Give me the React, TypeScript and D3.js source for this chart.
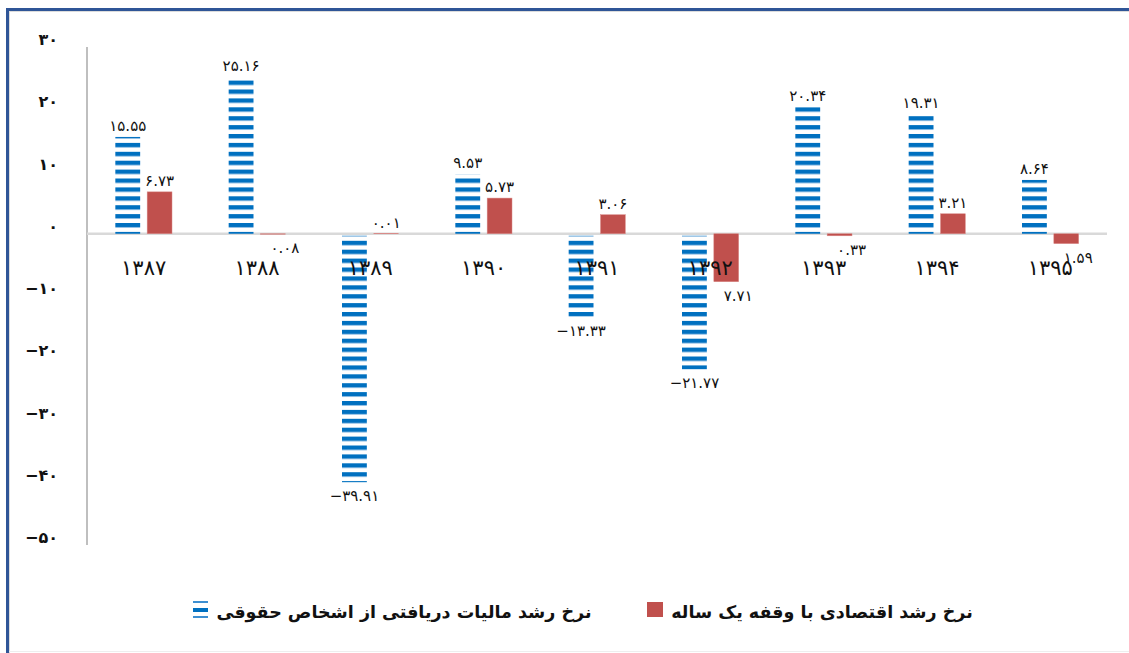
import React, { useEffect, useRef } from 'react';
import * as d3 from 'd3';

// سال‌ها
const years = ['1387', '1388', '1389', '1390', '1391', '1392', '1393', '1394', '1395'];
// نرخ رشد مالیات دریافتی از اشخاص حقوقی
const taxGrowth = [15.55, 25.16, -39.91, 9.53, -13.33, -21.77, 20.34, 19.31, 8.64];
// نرخ رشد اقتصادی با وقفه یک ساله
const gdpGrowth = [6.73, -0.08, 0.01, 5.73, 3.06, -7.71, -0.33, 3.21, -1.59];
const yTicks = [30, 20, 10, 0, -10, -20, -30, -40, -50];
const seriesNames = ['نرخ رشد مالیات دریافتی از اشخاص حقوقی', 'نرخ رشد اقتصادی با وقفه یک ساله'];

const toFa = (s: string) => s.replace(/[0-9]/g, d => '۰۱۲۳۴۵۶۷۸۹'[+d]);

const App = () => {
  const ref = useRef<SVGSVGElement | null>(null);

  useEffect(() => {
    const W = 1129;
    const H = 653;
    const svg = d3.select(ref.current);
    svg.selectAll('*').remove();
    svg.attr('width', W).attr('height', H).style('font-family', '"DejaVu Sans", sans-serif');

    svg.append('rect').attr('width', W).attr('height', H).attr('fill', '#fff');

    // قاب
    svg.append('rect').attr('x', 6).attr('y', 8).attr('width', W - 6).attr('height', 3).attr('fill', '#2f5597');
    svg.append('rect').attr('x', 6).attr('y', 8).attr('width', 3).attr('height', H - 8).attr('fill', '#2f5597');
    svg.append('rect').attr('x', 9).attr('y', 11).attr('width', W - 9).attr('height', 1).attr('fill', '#dcdcdc');
    svg.append('rect').attr('x', 9).attr('y', 11).attr('width', 1).attr('height', H - 11).attr('fill', '#dcdcdc');
    svg.append('rect').attr('x', 9).attr('y', H - 2).attr('width', W - 9).attr('height', 1).attr('fill', '#eeeeee');

    const defs = svg.append('defs');
    const pat = defs
      .append('pattern')
      .attr('id', 'stripes')
      .attr('patternUnits', 'userSpaceOnUse')
      .attr('x', 0)
      .attr('y', 0.5)
      .attr('width', 12)
      .attr('height', 8.9);
    pat.append('rect').attr('x', 0).attr('y', 0).attr('width', 12).attr('height', 4.3).attr('fill', '#0070c0');
    pat.append('rect').attr('x', 0).attr('y', 4.3).attr('width', 12).attr('height', 0.6).attr('fill', '#7fb4e0');

    const left = 87;
    const right = 1107;

    const y = d3.scaleLinear().domain([-50, 30]).range([545, 47]);

    const x0 = d3.scaleBand().domain(years).range([left, right]).paddingInner(0.5).paddingOuter(0.25);
    const x1 = d3.scaleBand().domain(['tax', 'gdp']).range([0, x0.bandwidth()]).paddingInner(0.22);

    // محور عمودی
    svg
      .append('line')
      .attr('x1', left)
      .attr('x2', left)
      .attr('y1', y(30))
      .attr('y2', y(-50))
      .attr('stroke', '#bfbfbf')
      .attr('stroke-width', 2);

    svg
      .append('g')
      .selectAll('text')
      .data(yTicks)
      .enter()
      .append('text')
      .attr('x', 58)
      .attr('y', d => y(d) - 2)
      .attr('text-anchor', 'end')
      .style('font-size', '16px')
      .style('font-weight', 'bold')
      .attr('fill', '#111')
      .text(d => (d < 0 ? '−' + toFa(String(-d)) : toFa(String(d))));

    // خط صفر
    svg
      .append('line')
      .attr('x1', left)
      .attr('x2', right)
      .attr('y1', y(0))
      .attr('y2', y(0))
      .attr('stroke', '#d9d9d9')
      .attr('stroke-width', 2.5);

    const rows = years.map((yr, i) => ({ yr, tax: taxGrowth[i], gdp: gdpGrowth[i] }));

    // میله‌ها
    const groups = svg
      .append('g')
      .selectAll('g')
      .data(rows)
      .enter()
      .append('g')
      .attr('transform', d => `translate(${x0(d.yr)},0)`);

    groups
      .append('rect')
      .attr('x', x1('tax')!)
      .attr('width', x1.bandwidth())
      .attr('y', d => y(Math.max(0, d.tax)) + (d.tax < 0 ? 2 : 0))
      .attr('height', d => Math.abs(y(d.tax) - y(0)) - (d.tax < 0 ? 2 : 0))
      .attr('fill', 'url(#stripes)');

    groups
      .append('rect')
      .attr('x', x1('gdp')!)
      .attr('width', x1.bandwidth())
      .attr('y', d => y(Math.max(0, d.gdp)))
      .attr('height', d => Math.abs(y(d.gdp) - y(0)))
      .attr('fill', '#c0504d')
      .attr('stroke', '#d98b89')
      .attr('stroke-width', 0.5);

    // برچسب سال‌ها
    svg
      .append('g')
      .selectAll('text')
      .data(years)
      .enter()
      .append('text')
      .attr('x', d => x0(d)! + x0.bandwidth() / 2)
      .attr('y', y(0) + 41)
      .attr('text-anchor', 'middle')
      .style('font-size', '21px')
      .attr('fill', '#111')
      .text(d => toFa(d));

    const fmt = d3.format('.2f');

    // برچسب مقادیر
    groups
      .append('text')
      .attr('x', x1('tax')! + x1.bandwidth() / 2)
      .attr('y', d => (d.tax >= 0 ? y(d.tax) - 6 : y(d.tax) + 19))
      .attr('text-anchor', 'middle')
      .style('font-size', '15px')
      .attr('fill', '#111')
      .text(d => (d.tax < 0 ? '−' + toFa(fmt(-d.tax)) : toFa(fmt(d.tax))));

    groups
      .append('text')
      .attr('x', d => x1('gdp')! + x1.bandwidth() / 2 + (d.gdp < 0 ? 12 : 0))
      .attr('y', d => (d.gdp >= 0 ? y(d.gdp) - 6 : y(d.gdp) + 19))
      .attr('text-anchor', 'middle')
      .style('font-size', '15px')
      .attr('fill', '#111')
      .text(d => toFa(fmt(Math.abs(d.gdp))));

    // راهنما
    const legend = svg.append('g');
    const li = legend.append('g').attr('transform', 'translate(193,601)');
    li.append('rect').attr('x', 0).attr('y', 0).attr('width', 15).attr('height', 2).attr('fill', '#3d8fd1');
    li.append('rect').attr('x', 0).attr('y', 7).attr('width', 15).attr('height', 4).attr('fill', '#0070c0');
    li.append('rect').attr('x', 0).attr('y', 15).attr('width', 15).attr('height', 2).attr('fill', '#3d8fd1');

    legend
      .append('text')
      .attr('x', 404)
      .attr('y', 618)
      .attr('text-anchor', 'middle')
      .style('font-size', '17.5px')
      .style('font-weight', 'bold')
      .attr('fill', '#111')
      .text(seriesNames[0]);

    legend.append('rect').attr('x', 647).attr('y', 602).attr('width', 16).attr('height', 15).attr('fill', '#c0504d');

    legend
      .append('text')
      .attr('x', 822)
      .attr('y', 618)
      .attr('text-anchor', 'middle')
      .style('font-size', '17.5px')
      .style('font-weight', 'bold')
      .attr('fill', '#111')
      .text(seriesNames[1]);
  }, []);

  return <svg ref={ref} style={{ position: 'absolute', left: 0, top: 0, display: 'block' }} />;
};

export default App;
